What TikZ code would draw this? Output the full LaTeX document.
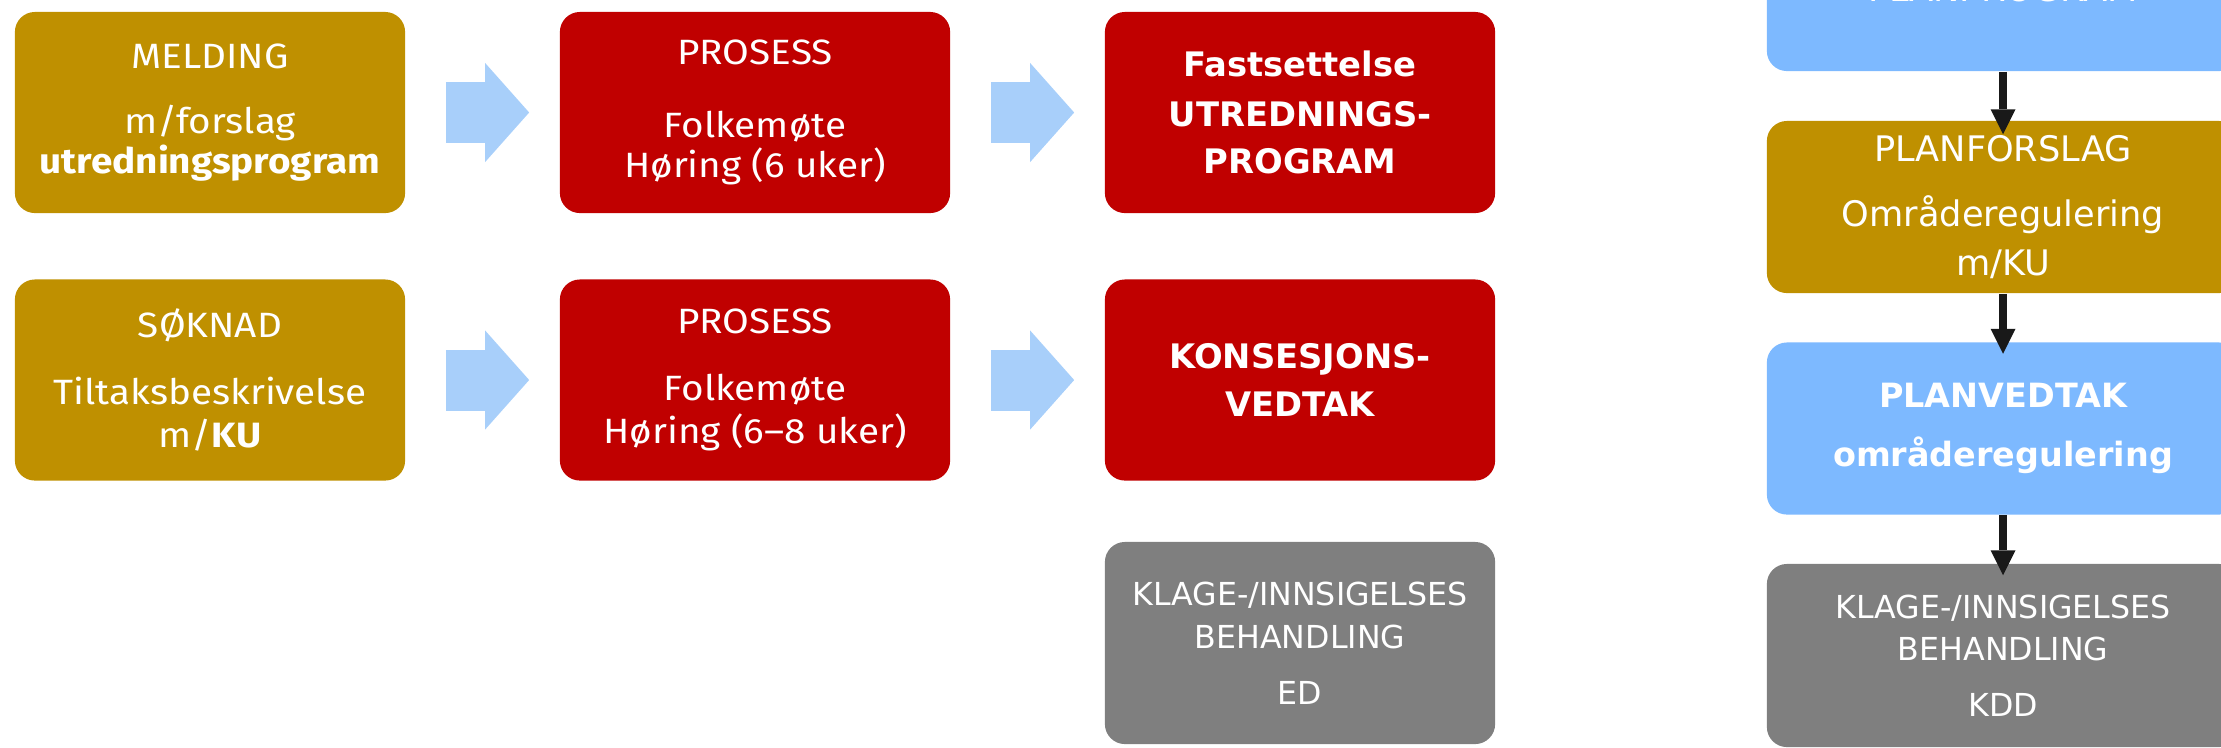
\documentclass[tikz,border=0pt]{standalone}
\usepackage{fontspec}
\newfontfamily\lfont{Fira Sans}[FakeStretch=1.1]
\newfontfamily\rfont{DejaVu Sans}
\usetikzlibrary{arrows.meta}
\definecolor{gullc}{RGB}{191,144,0}
\definecolor{rodc}{RGB}{192,0,0}
\definecolor{blac}{RGB}{125,185,255}
\definecolor{pilc}{RGB}{168,207,250}
\definecolor{graac}{RGB}{127,127,127}
\begin{document}
\begin{tikzpicture}[x=0.01cm,y=-0.01cm,
  boks/.style={rounded corners=0.2cm,minimum width=3.9cm,minimum height=2.01cm,align=center,text=white,inner sep=0pt},
  venstre/.style={boks,font=\lfont\fontsize{10}{11}\selectfont},
  hoyre/.style={boks,font=\rfont\bfseries\fontsize{9.6}{14}\selectfont},
  klage/.style={boks,fill=graac,font=\rfont\fontsize{9}{12.2}\selectfont},
  plan/.style={boks,minimum width=4.72cm,minimum height=1.72cm,font=\rfont\fontsize{10}{14}\selectfont},
  blokkpil/.style={line width=0.61cm,pilc,shorten <=0.4cm,shorten >=0.3cm,-{Triangle[width=0.99cm,length=0.44cm,line width=0pt]}},
  svartpil/.style={line width=0.08cm,black!90,-{Triangle[width=0.25cm,length=0.25cm,line width=0pt]}}]
  \useasboundingbox (0,0) rectangle (2221,747);
  \node[venstre,fill=gullc] (meld) at (210,112.5) {MELDING\\[7.5pt]m/forslag\\[0.6pt]\textbf{utredningsprogram}};
  \node[venstre,fill=rodc] (pros1) at (755,112.5) {PROSESS\\[9.8pt]Folkemøte\\[0.4pt]Høring (6 uker)};
  \node[hoyre,fill=rodc] (fast) at (1300,112.5) {Fastsettelse\\UTREDNINGS-\\[-0.6pt]PROGRAM};
  \node[venstre,fill=gullc] (sok) at (210,380) {SØKNAD\\[8pt]Tiltaksbeskrivelse\\[1.5pt]m/\textbf{KU}};
  \node[venstre,fill=rodc] (pros2) at (755,380) {PROSESS\\[8pt]Folkemøte\\[1.5pt]Høring (6–8 uker)};
  \node[hoyre,fill=rodc] (kons) at (1300,380) {KONSESJONS-\\[-0.3pt]VEDTAK};
  \node[klage,minimum height=2.02cm] (ed) at (1300,643) {KLAGE-/INNSIGELSES\\BEHANDLING\\[3.6pt]ED};
  \draw[blokkpil] (meld) -- (pros1);
  \draw[blokkpil] (pros1) -- (fast);
  \draw[blokkpil] (sok) -- (pros2);
  \draw[blokkpil] (pros2) -- (kons);
  \node[plan,fill=blac,minimum height=1.64cm] (plprog) at (2003,-11) {PLANPROGRAM};
  \node[plan,fill=gullc] (plfors) at (2003,207) {PLANFORSLAG\\[4.5pt]Områderegulering\\m/KU};
  \node[plan,fill=blac,font=\rfont\bfseries\fontsize{9.5}{17}\selectfont] (plved) at (2003,428.5) {PLANVEDTAK\\områderegulering};
  \node[klage,minimum width=4.72cm,minimum height=1.83cm] (kdd) at (2003,655.5) {KLAGE-/INNSIGELSES\\BEHANDLING\\[3.6pt]KDD};
  \draw[svartpil] (plprog) -- ([yshift=-0.14cm]plfors.north);
  \draw[svartpil] (plfors) -- ([yshift=-0.12cm]plved.north);
  \draw[svartpil] (plved) -- ([yshift=-0.12cm]kdd.north);
\end{tikzpicture}
\end{document}
